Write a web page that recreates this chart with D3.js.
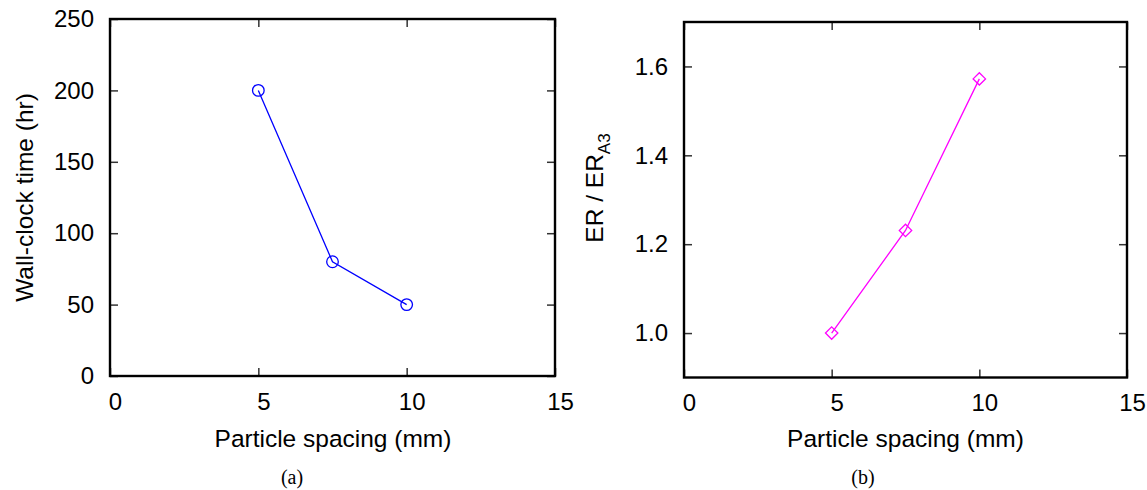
<!DOCTYPE html>
<html>
<head>
<meta charset="utf-8">
<script src="https://cdn.jsdelivr.net/npm/d3@7"></script>
<style>
  html, body { margin: 0; padding: 0; background: #fff; }
  svg { display: block; }
  .tick text { font-family: "Liberation Sans", Arial, Helvetica, sans-serif; font-size: 24px; fill: #000; }
  .axis-title { font-family: "Liberation Sans", Arial, Helvetica, sans-serif; font-size: 24.5px; fill: #000; }
  .caption { font-family: "Liberation Serif", "Times New Roman", serif; font-size: 20px; fill: #000; }
</style>
</head>
<body>
<svg id="fig" width="1147" height="490"></svg>
<script>
// Particle spacing (mm) used in the three runs
const spacing = [5, 7.5, 10];
// Wall-clock time (hr) for each spacing
const wallClock = [200, 80, 50];
// Energy release normalised by the A3 case
const erRatio = [1.0, 1.231, 1.572];

// Axis ticks
const xTicks = [0, 5, 10, 15];
const timeTicks = [0, 50, 100, 150, 200, 250];
const ratioTicks = [1.0, 1.2, 1.4, 1.6];

const svg = d3.select("#fig");
const TICK = 8;

function panel(opts) {
  const { left, right, top, bottom, xDomain, yDomain, yTickVals, yFmt, values, color, marker } = opts;
  const x = d3.scaleLinear().domain(xDomain).range([left, right]);
  const y = d3.scaleLinear().domain(yDomain).range([bottom, top]);
  const g = svg.append("g");

  // bottom axis with labels, ticks pointing inward
  const bx = g.append("g").attr("transform", `translate(0,${bottom})`)
    .call(d3.axisBottom(x).tickValues(xTicks).tickSize(-TICK).tickPadding(16.5).tickFormat(d3.format("d")));
  bx.selectAll("text").attr("dx", 5);
  // top mirror ticks
  const tx = g.append("g").attr("transform", `translate(0,${top})`)
    .call(d3.axisTop(x).tickValues(xTicks).tickSize(-TICK).tickFormat(""));
  // left axis with labels
  const ly = g.append("g").attr("transform", `translate(${left},0)`)
    .call(d3.axisLeft(y).tickValues(yTickVals).tickSize(-TICK).tickPadding(16).tickFormat(yFmt));
  // right mirror ticks
  const ry = g.append("g").attr("transform", `translate(${right},0)`)
    .call(d3.axisRight(y).tickValues(yTickVals).tickSize(-TICK).tickFormat(""));

  [bx, tx, ly, ry].forEach(a => {
    a.select(".domain").remove();
    a.selectAll(".tick line").attr("stroke", "#333").attr("stroke-width", 1.5);
  });

  // frame
  g.append("rect")
    .attr("x", left).attr("y", top)
    .attr("width", right - left).attr("height", bottom - top)
    .attr("fill", "none").attr("stroke", "#000").attr("stroke-width", 2.4);

  const pts = spacing.map((s, i) => [x(s), y(values[i])]);
  g.append("path")
    .attr("d", d3.line()(pts))
    .attr("fill", "none").attr("stroke", color).attr("stroke-width", 1.3);

  if (marker === "circle") {
    g.selectAll("circle.pt").data(pts).join("circle")
      .attr("class", "pt")
      .attr("cx", d => d[0]).attr("cy", d => d[1]).attr("r", 5.8)
      .attr("fill", "none").attr("stroke", color).attr("stroke-width", 1.3);
  } else {
    const s = 6.2;
    g.selectAll("path.pt").data(pts).join("path")
      .attr("class", "pt")
      .attr("d", d => `M${d[0]},${d[1] - s}L${d[0] + s},${d[1]}L${d[0]},${d[1] + s}L${d[0] - s},${d[1]}Z`)
      .attr("fill", "none").attr("stroke", color).attr("stroke-width", 1.3);
  }
  return { x, y, g };
}

// (a) wall-clock time
const a = panel({
  left: 110, right: 555, top: 19, bottom: 376,
  xDomain: [0, 15], yDomain: [0, 250],
  yTickVals: timeTicks, yFmt: d3.format("d"),
  values: wallClock, color: "#0000ff", marker: "circle"
});
a.g.append("text").attr("class", "axis-title")
  .attr("x", 333).attr("y", 446.5).attr("text-anchor", "middle")
  .text("Particle spacing (mm)");
a.g.append("text").attr("class", "axis-title")
  .attr("transform", "translate(33,197.5) rotate(-90)").attr("text-anchor", "middle")
  .text("Wall-clock time (hr)");
a.g.append("text").attr("class", "caption")
  .attr("x", 292).attr("y", 484).attr("text-anchor", "middle").text("(a)");

// (b) normalised energy release
const b = panel({
  left: 684, right: 1127, top: 22, bottom: 377.5,
  xDomain: [0, 15], yDomain: [0.9, 1.7],
  yTickVals: ratioTicks, yFmt: d3.format(".1f"),
  values: erRatio, color: "#ff00ff", marker: "diamond"
});
b.g.append("text").attr("class", "axis-title")
  .attr("x", 905.5).attr("y", 446.5).attr("text-anchor", "middle")
  .text("Particle spacing (mm)");
const yl = b.g.append("text").attr("class", "axis-title")
  .attr("transform", "translate(603,188) rotate(-90)").attr("text-anchor", "middle");
yl.append("tspan").text("ER / ER");
yl.append("tspan").attr("dy", 7).attr("font-size", "17px").text("A3");
b.g.append("text").attr("class", "caption")
  .attr("x", 863).attr("y", 484).attr("text-anchor", "middle").text("(b)");
</script>
</body>
</html>
